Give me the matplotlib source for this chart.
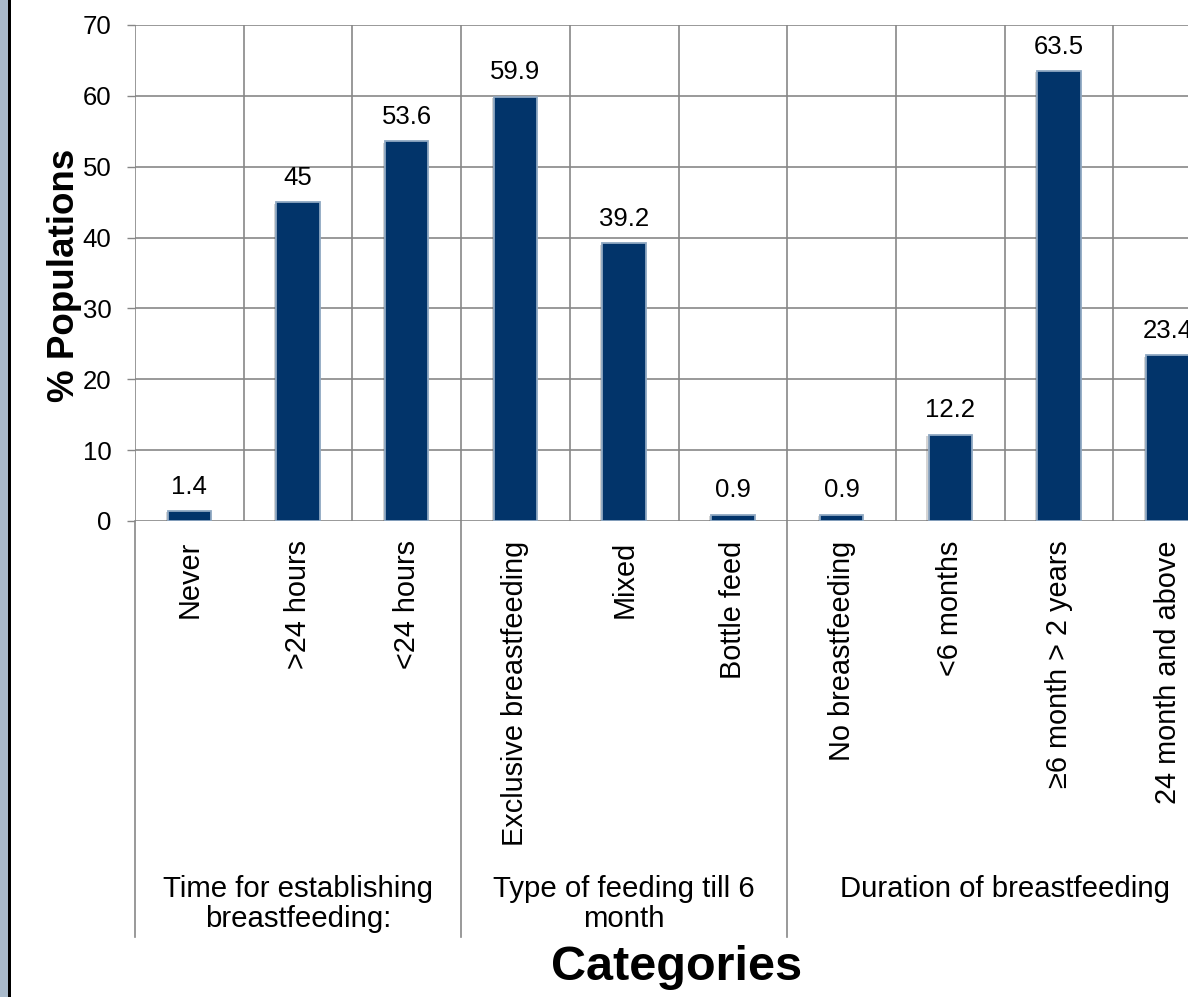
import matplotlib
matplotlib.use("Agg")
import matplotlib.pyplot as plt
from matplotlib.patches import Rectangle
from matplotlib.lines import Line2D
import matplotlib.patheffects as pe
import matplotlib.transforms as mtrans

plt.rcParams['font.family'] = ['Liberation Sans', 'DejaVu Sans']

categories = ["Never", ">24 hours", "<24 hours",
              "Exclusive breastfeeding", "Mixed", "Bottle feed",
              "No breastfeeding", "<6 months", "\u22656 month > 2 years",
              "24 month and above"]
values = [1.4, 45, 53.6, 59.9, 39.2, 0.9, 0.9, 12.2, 63.5, 23.4]
value_labels = ["1.4", "45", "53.6", "59.9", "39.2", "0.9", "0.9", "12.2", "63.5", "23.4"]
groups = ["Time for establishing\nbreastfeeding:", "Type of feeding till 6\nmonth",
          "Duration of breastfeeding"]
group_sizes = [3, 3, 4]
y_ticks = [0, 10, 20, 30, 40, 50, 60, 70]

W, H = 1188, 997
fig = plt.figure(figsize=(W / 100, H / 100), dpi=100)
fig.patch.set_facecolor('white')

left_px, right_px, top_px, bottom_px = 135, 1222, 25, 521
ax = fig.add_axes([left_px / W, 1 - bottom_px / H,
                   (right_px - left_px) / W, (bottom_px - top_px) / H])

grid_c = '#878787'
n = len(categories)
x = list(range(n))

bars = ax.bar(x, values, width=0.4, color='#02346A', edgecolor='#8FA8C2',
              linewidth=1.3, zorder=3)
for b in bars:
    b.set_path_effects([pe.SimplePatchShadow(offset=(-1.5, -1.0), alpha=0.25, shadow_rgbFace='#555555'),
                        pe.Normal()])

for xi, v, lab in zip(x, values, value_labels):
    ax.annotate(lab, (xi, v), xytext=(0, 9), textcoords='offset points',
                ha='center', va='bottom', fontsize=18.5, color='black',
                annotation_clip=False)

ax.set_xlim(-0.5, n - 0.5)
ax.set_ylim(0, 70)
ax.set_yticks(y_ticks)
ax.set_yticklabels([str(t) for t in y_ticks], fontsize=18.5)
ax.tick_params(axis='y', length=6, width=1.0, color=grid_c, pad=11)

ax.set_xticks(x)
ax.set_xticklabels(categories, rotation=90, fontsize=20.8, va='top', ha='center')
ax.tick_params(axis='x', length=0, pad=14)

# gridlines
for t in y_ticks:
    ax.axhline(t, color=grid_c, lw=1.2, zorder=1)
for k in range(n + 1):
    ax.axvline(k - 0.5, color=grid_c, lw=1.2, zorder=1)

for s in ax.spines.values():
    s.set_visible(False)

# group separators below the axis
trans = mtrans.blended_transform_factory(ax.transData, ax.transAxes)
bottom_frac = (bottom_px - 937) / (bottom_px - top_px)
pos = -0.5
sep_positions = [pos]
for gs in group_sizes:
    pos += gs
    sep_positions.append(pos)
for sp in sep_positions:
    ax.add_line(Line2D([sp, sp], [0, bottom_frac], transform=trans, color=grid_c,
                       lw=1.2, clip_on=False))

# group labels
label_top = (bottom_px - 875) / (bottom_px - top_px)
start = -0.5
for g, gs in zip(groups, group_sizes):
    cx = start + gs / 2
    ax.text(cx, label_top, g, transform=trans, ha='center', va='top',
            fontsize=21.2, linespacing=1.1, clip_on=False)
    start += gs

fig.text(65 / W, 1 - 275 / H, "% Populations", rotation=90, ha='center', va='center',
         fontsize=26.5, fontweight='bold')
fig.text(677 / W, 1 - 967 / H, "Categories", ha='center', va='center',
         fontsize=35, fontweight='bold')

# left border strip
fig.patches.append(Rectangle((0, 0), 8 / W, 1, transform=fig.transFigure,
                             facecolor='#A9BACB', edgecolor='none', zorder=10))
fig.patches.append(Rectangle((8 / W, 0), 3 / W, 1, transform=fig.transFigure,
                             facecolor='black', edgecolor='none', zorder=10))

fig.savefig("out.png", dpi=100)
